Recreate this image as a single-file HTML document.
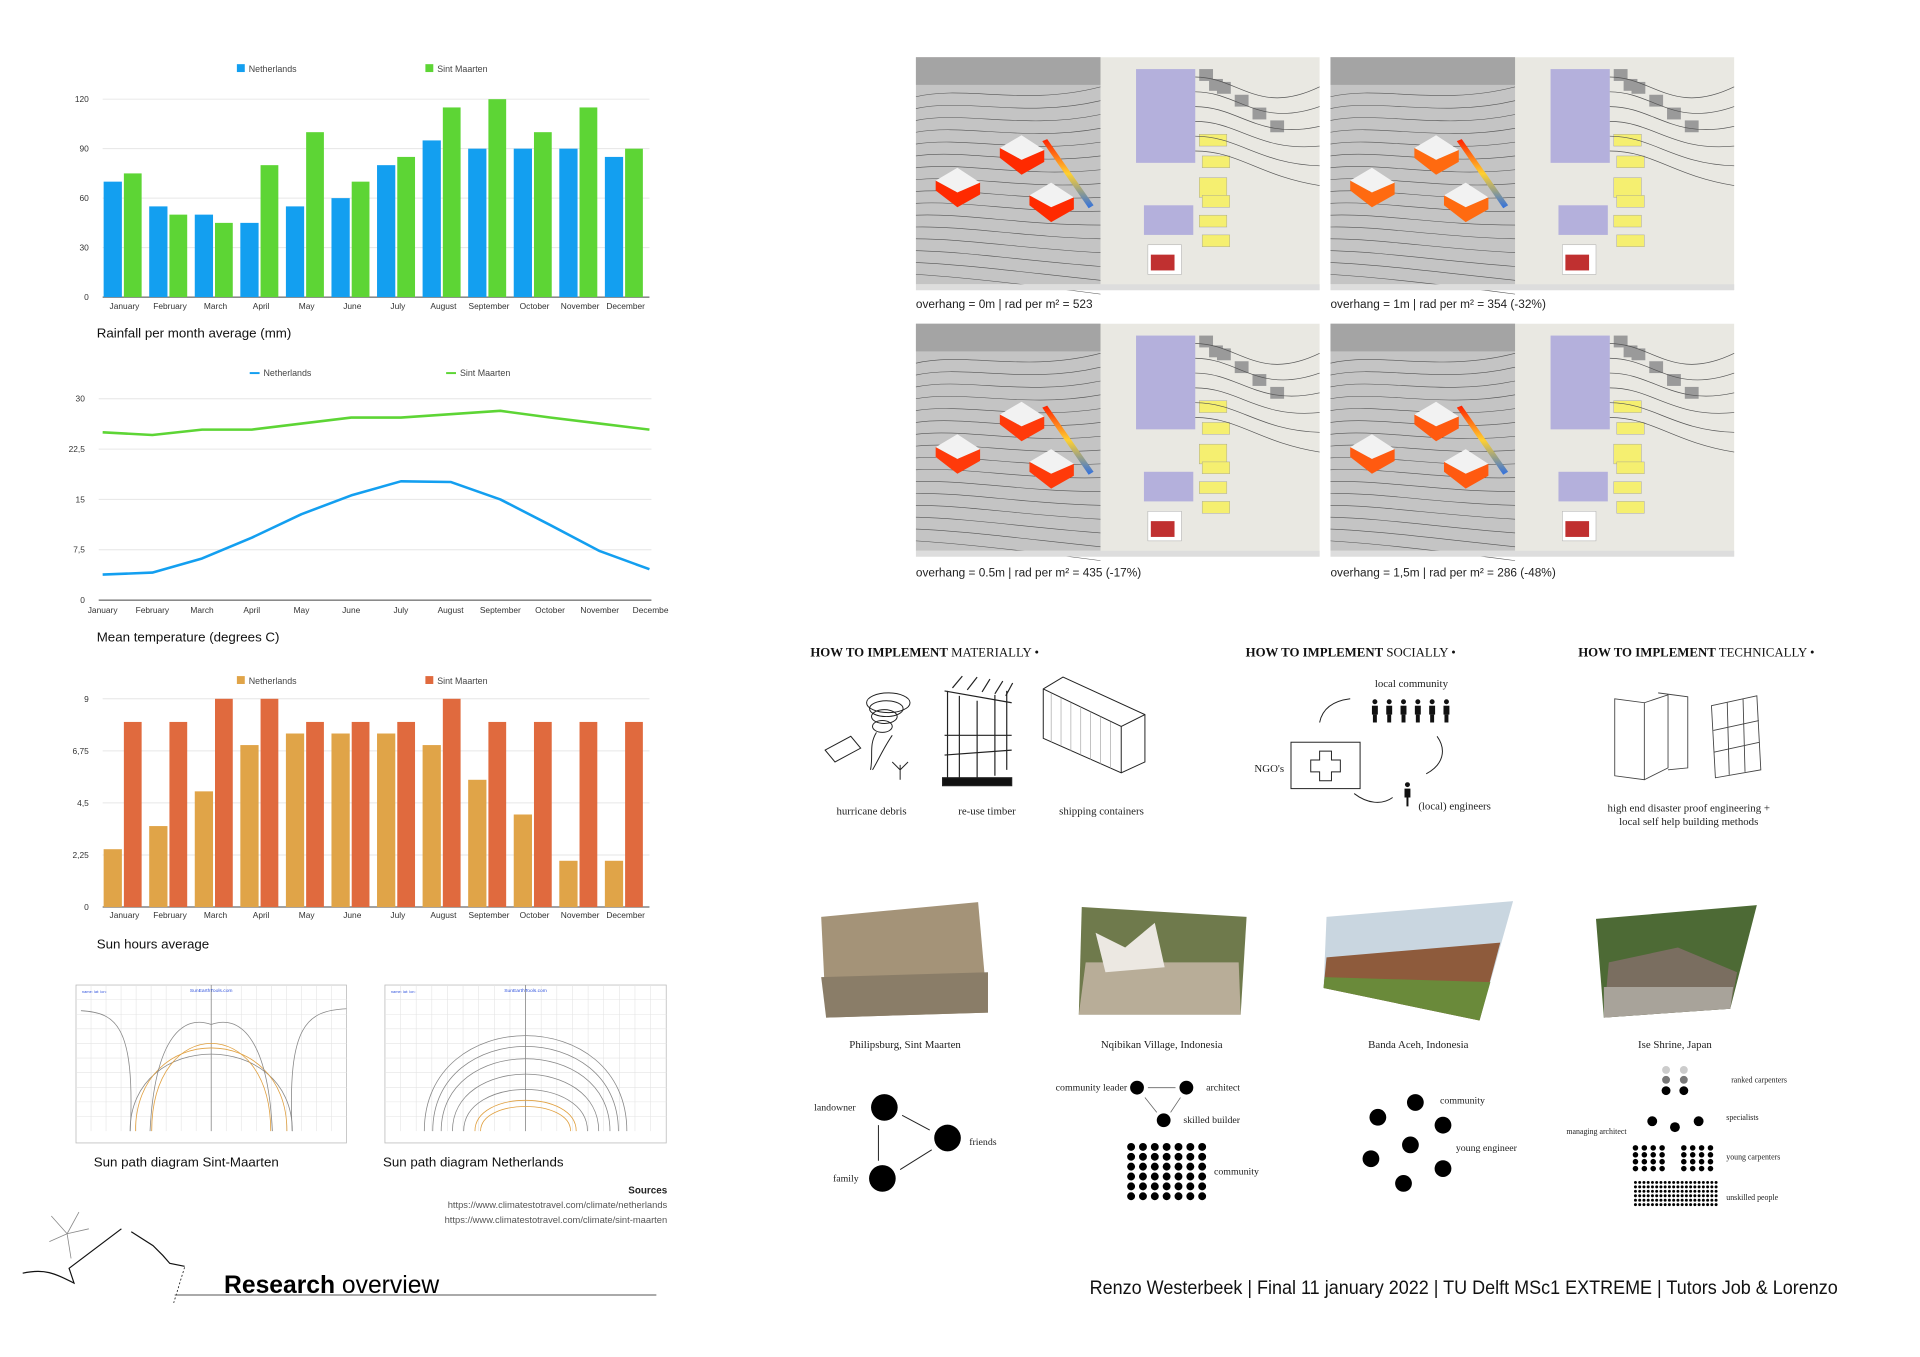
<!DOCTYPE html>
<html><head><meta charset="utf-8">
<style>
html,body{margin:0;padding:0;background:#fff;}
svg{display:block;}
.t{font-family:"Liberation Sans",sans-serif;}
.s{font-family:"Liberation Serif",serif;}
</style></head>
<body>
<svg id="root" width="1920" height="1357" viewBox="0 0 1920 1357" xmlns="http://www.w3.org/2000/svg">
<rect width="1920" height="1357" fill="#fff"/>
<g transform="scale(0.987)">

<!-- Rainfall chart -->
<g id="rain">
  <rect x="240" y="65" width="8" height="8" fill="#139ff0"/>
  <text x="252" y="73" class="t" font-size="9" fill="#444">Netherlands</text>
  <rect x="431" y="65" width="8" height="8" fill="#5dd535"/>
  <text x="443" y="73" class="t" font-size="9" fill="#444">Sint Maarten</text>
  <text x="98" y="342" class="t" font-size="13.5" fill="#111">Rainfall per month average (mm)</text>
</g>
<!-- Temperature chart -->
<g id="temp">
  <line x1="253" y1="378" x2="263" y2="378" stroke="#139ff0" stroke-width="2"/>
  <text x="267" y="381" class="t" font-size="9" fill="#444">Netherlands</text>
  <line x1="452" y1="378" x2="462" y2="378" stroke="#5dd535" stroke-width="2"/>
  <text x="466" y="381" class="t" font-size="9" fill="#444">Sint Maarten</text>
  <text x="98" y="650" class="t" font-size="13.5" fill="#111">Mean temperature (degrees C)</text>
</g>
<!-- Sun hours chart -->
<g id="sun">
  <rect x="240" y="685" width="8" height="8" fill="#e0a448"/>
  <text x="252" y="693" class="t" font-size="9" fill="#444">Netherlands</text>
  <rect x="431" y="685" width="8" height="8" fill="#e06a3e"/>
  <text x="443" y="693" class="t" font-size="9" fill="#444">Sint Maarten</text>
  <text x="98" y="961" class="t" font-size="13.5" fill="#111">Sun hours average</text>
</g>

<!-- Sun path diagrams -->
<g id="sp1"></g>
<g id="sp2"></g>
<text x="95" y="1182" class="t" font-size="13.5" fill="#111">Sun path diagram Sint-Maarten</text>
<text x="388" y="1182" class="t" font-size="13.5" fill="#111">Sun path diagram Netherlands</text>

<text x="676" y="1209" class="t" font-size="10" font-weight="bold" fill="#222" text-anchor="end">Sources</text>
<text x="676" y="1224" class="t" font-size="9.5" fill="#555" text-anchor="end">https://www.climatestotravel.com/climate/netherlands</text>
<text x="676" y="1239" class="t" font-size="9.5" fill="#555" text-anchor="end">https://www.climatestotravel.com/climate/sint-maarten</text>

<!-- hill sketch -->
<g fill="none" stroke="#111" stroke-width="1.2">
  <path d="M23 1290 C45 1285 55 1290 75 1300 L70 1285 L123 1245 M133 1248 L155 1262 L165 1272 L172 1280 L187 1283"/>
  <path d="M187 1284 L176 1320" stroke-dasharray="2 2" stroke-width="0.8"/>
  <g stroke="#888" stroke-width="0.8"><path d="M68 1250 L52 1232 M68 1250 L80 1228 M68 1250 L90 1245 M68 1250 L50 1258 M68 1250 L72 1275"/></g>
</g>
<line x1="177" y1="1312" x2="665" y2="1312" stroke="#555" stroke-width="1"/>
<text x="227" y="1310" class="t" font-size="25" fill="#000"><tspan font-weight="bold">Research</tspan> overview</text>

<!-- Screenshots -->
<g id="shots"></g>
<text x="928" y="312" class="t" font-size="12" fill="#222">overhang = 0m | rad per m² = 523</text>
<text x="1348" y="312" class="t" font-size="12" fill="#222">overhang = 1m | rad per m² = 354 (-32%)</text>
<text x="928" y="584" class="t" font-size="12" fill="#222">overhang = 0.5m | rad per m² = 435 (-17%)</text>
<text x="1348" y="584" class="t" font-size="12" fill="#222">overhang = 1,5m | rad per m² = 286 (-48%)</text>

<!-- Headings -->
<text x="821" y="665" class="s" font-size="13" fill="#111"><tspan font-weight="bold">HOW TO IMPLEMENT</tspan> MATERIALLY •</text>
<text x="1262" y="665" class="s" font-size="13" fill="#111"><tspan font-weight="bold">HOW TO IMPLEMENT</tspan> SOCIALLY •</text>
<text x="1599" y="665" class="s" font-size="13" fill="#111"><tspan font-weight="bold">HOW TO IMPLEMENT</tspan> TECHNICALLY •</text>

<!-- Material icons -->
<g fill="none" stroke="#222" stroke-width="1">
  <ellipse cx="900" cy="712" rx="22" ry="10"/><ellipse cx="898" cy="718" rx="17" ry="8"/><ellipse cx="896" cy="726" rx="13" ry="7"/><ellipse cx="894" cy="736" rx="10" ry="6"/><path d="M888 742 C880 755 885 765 882 780"/><path d="M904 745 C895 758 890 770 884 780"/>
  <path d="M836 760 L862 746 L872 758 L846 772 Z"/><path d="M912 790 L912 775 M912 780 L904 772 M912 780 L920 772"/>
</g>
<text x="883" y="825" class="s" font-size="11" fill="#222" text-anchor="middle">hurricane debris</text>
<g fill="none" stroke="#222" stroke-width="1.2">
  <path d="M960 700 L960 788 M972 705 L972 790 M990 710 L990 788 M1008 704 L1008 786 M1020 700 L1020 780"/>
  <path d="M957 700 L1025 712 M957 745 L1025 745 M957 765 L1025 760"/>
  <path d="M965 697 L975 685 M980 699 L990 686 M995 701 L1003 688 M1008 703 L1016 690 M1019 705 L1026 692"/>
  <rect x="955" y="788" width="70" height="8" fill="#111"/>
</g>
<text x="1000" y="825" class="s" font-size="11" fill="#222" text-anchor="middle">re-use timber</text>
<g fill="none" stroke="#222" stroke-width="1">
  <path d="M1057 698 L1077 686 L1160 724 L1160 772 L1136 783 L1057 748 Z"/><path d="M1057 698 L1136 736 L1160 724 M1136 736 L1136 783"/>
  <path d="M1065 702 L1065 752 M1075 707 L1075 756 M1085 712 L1085 761 M1095 716 L1095 765 M1105 721 L1105 770 M1115 726 L1115 774 M1125 731 L1125 779" stroke="#999" stroke-width="0.6"/>
</g>
<text x="1116" y="825" class="s" font-size="11" fill="#222" text-anchor="middle">shipping containers</text>

<!-- Social diagram -->
<text x="1430" y="696" class="s" font-size="11" fill="#222" text-anchor="middle">local community</text>
<g id="people" fill="#111"></g>
<text x="1301" y="782" class="s" font-size="11" fill="#222" text-anchor="end">NGO's</text>
<g fill="none" stroke="#222" stroke-width="1">
  <rect x="1308" y="752" width="70" height="47"/>
  <path d="M1337 761 h12 v9 h9 v12 h-9 v9 h-12 v-9 h-9 v-12 h9 z"/>
</g>
<g fill="#111"><circle cx="1426" cy="795" r="2.5"/><rect x="1423" y="799" width="6" height="9"/><rect x="1425" y="808" width="2" height="9"/></g>
<text x="1437" y="820" class="s" font-size="11" fill="#222">(local) engineers</text>
<g fill="none" stroke="#222" stroke-width="1">
  <path d="M1337 732 C1340 717 1352 710 1368 708"/><path d="M1456 746 C1466 760 1462 775 1445 784"/><path d="M1411 808 C1400 816 1385 814 1372 804"/>
</g>
<g fill="none" stroke="#444" stroke-width="0.9">
  <path d="M1636 708 L1666 712 L1666 790 L1636 786 Z M1666 712 L1690 704 L1690 778 L1666 790 M1680 702 L1710 706 L1710 778 L1690 780"/>
  <path d="M1734 715 L1780 705 L1784 780 L1738 788 Z M1736 740 L1782 730 M1737 762 L1783 752 M1750 712 L1752 785 M1766 708 L1768 782"/>
</g>
<text x="1711" y="822" class="s" font-size="11" fill="#222" text-anchor="middle">high end disaster proof engineering +</text>
<text x="1711" y="836" class="s" font-size="11" fill="#222" text-anchor="middle">local self help building methods</text>

<!-- Photos -->
<polygon points="832,929 991,914 1001,1026 837,1031" fill="#a49378"/>
<polygon points="832,990 1001,985 1001,1026 837,1031" fill="#8a7d68"/>
<polygon points="1096,919 1263,929 1257,1028 1093,1028" fill="#6f7a4c"/>
<polygon points="1100,975 1255,975 1257,1028 1093,1028" fill="#b8ad98"/>
<polygon points="1110,945 1140,960 1170,935 1180,980 1120,985" fill="#ece8e2"/>
<polygon points="1344,929 1533,913 1499,1034 1341,1001" fill="#c9d6e0"/>
<polygon points="1344,970 1520,955 1499,1034 1341,1001" fill="#8e5b3c"/>
<polygon points="1342,990 1510,995 1499,1034 1341,1001" fill="#6a8a3a"/>
<polygon points="1617,931 1780,917 1753,1022 1625,1031" fill="#4d6a35"/>
<polygon points="1630,975 1700,960 1760,985 1753,1022 1625,1031" fill="#7a6e60"/>
<polygon points="1625,1000 1756,1000 1753,1022 1625,1031" fill="#a8a39a"/>
<text x="917" y="1062" class="s" font-size="11" fill="#222" text-anchor="middle">Philipsburg, Sint Maarten</text>
<text x="1177" y="1062" class="s" font-size="11" fill="#222" text-anchor="middle">Nqibikan Village, Indonesia</text>
<text x="1437" y="1062" class="s" font-size="11" fill="#222" text-anchor="middle">Banda Aceh, Indonesia</text>
<text x="1697" y="1062" class="s" font-size="11" fill="#222" text-anchor="middle">Ise Shrine, Japan</text>

<!-- Network diagrams -->
<g>
  <circle cx="896" cy="1122" r="13.5" fill="#000"/><circle cx="960" cy="1153" r="13.5" fill="#000"/><circle cx="894" cy="1194" r="13.5" fill="#000"/>
  <path d="M914 1130 L942 1145 M890 1140 L890 1176 M912 1185 L944 1165" stroke="#222" stroke-width="1"/>
  <text x="867" y="1125" class="s" font-size="10" fill="#222" text-anchor="end">landowner</text>
  <text x="982" y="1160" class="s" font-size="10" fill="#222">friends</text>
  <text x="870" y="1197" class="s" font-size="10" fill="#222" text-anchor="end">family</text>
</g>
<g id="net2">
  <circle cx="1152" cy="1102" r="7" fill="#000"/><circle cx="1202" cy="1102" r="7" fill="#000"/><circle cx="1179" cy="1135" r="7" fill="#000"/>
  <path d="M1163 1102 L1191 1102 M1172 1127 L1160 1112 M1186 1127 L1196 1112" stroke="#666" stroke-width="0.8"/>
  <text x="1142" y="1105" class="s" font-size="10" fill="#222" text-anchor="end">community leader</text>
  <text x="1222" y="1105" class="s" font-size="10" fill="#222">architect</text>
  <text x="1199" y="1138" class="s" font-size="10" fill="#222">skilled builder</text>
  <text x="1230" y="1190" class="s" font-size="10" fill="#222">community</text>
</g>
<g fill="#000">
  <circle cx="1434" cy="1117" r="8.5"/><circle cx="1462" cy="1140" r="8.5"/><circle cx="1462" cy="1184" r="8.5"/><circle cx="1422" cy="1199" r="8.5"/><circle cx="1389" cy="1174" r="8.5"/><circle cx="1396" cy="1132" r="8.5"/><circle cx="1429" cy="1160" r="8.5"/>
  <text x="1459" y="1118" class="s" font-size="10" fill="#222">community</text>
  <text x="1475" y="1166" class="s" font-size="10" fill="#222">young engineer</text>
</g>
<g id="net4">
  <circle cx="1688" cy="1084" r="4" fill="#ccc"/><circle cx="1706" cy="1084" r="4" fill="#ccc"/>
  <circle cx="1688" cy="1094" r="4" fill="#777"/><circle cx="1706" cy="1094" r="4" fill="#777"/>
  <circle cx="1688" cy="1105" r="4.5" fill="#000"/><circle cx="1706" cy="1105" r="4.5" fill="#000"/>
  <circle cx="1674" cy="1136" r="5" fill="#000"/><circle cx="1697" cy="1142" r="5" fill="#000"/><circle cx="1721" cy="1136" r="5" fill="#000"/>
  <text x="1754" y="1097" class="s" font-size="8" fill="#222">ranked carpenters</text>
  <text x="1749" y="1135" class="s" font-size="8" fill="#222">specialists</text>
  <text x="1648" y="1149" class="s" font-size="8" fill="#222" text-anchor="end">managing architect</text>
  <text x="1749" y="1175" class="s" font-size="8" fill="#222">young carpenters</text>
  <text x="1749" y="1216" class="s" font-size="8" fill="#222">unskilled people</text>
</g>

<text x="1104" y="1311" class="t" font-size="20" fill="#111" textLength="758" lengthAdjust="spacingAndGlyphs">Renzo Westerbeek | Final 11 january 2022 | TU Delft MSc1 EXTREME  | Tutors Job &amp; Lorenzo</text>
</g>
</svg>

<script>
// ---- chart data ----
const months = ["January","February","March","April","May","June","July","August","September","October","November","December"];
const rainNL = [70,55,50,45,55,60,80,95,90,90,90,85];
const rainSM = [75,50,45,80,100,70,85,115,120,100,115,90];
const rainTicks = ["0","30","60","90","120"];
const rainTickVals = [0,30,60,90,120];
const tempNL = [3.8,4.1,6.2,9.3,12.8,15.6,17.7,17.6,15,11.2,7.3,4.6];
const tempSM = [25,24.6,25.4,25.4,26.3,27.2,27.2,27.7,28.2,27.2,26.3,25.4];
const tempTicks = ["0","7,5","15","22,5","30"];
const tempTickVals = [0,7.5,15,22.5,30];
const sunNL = [2.5,3.5,5,7,7.5,7.5,7.5,7,5.5,4,2,2];
const sunSM = [8,8,9,9,8,8,8,9,8,8,8,8];
const sunTicks = ["0","2,25","4,5","6,75","9"];
const sunTickVals = [0,2.25,4.5,6.75,9];

const NS = "http://www.w3.org/2000/svg";
function mk(tag, attrs, parent){ const e=document.createElementNS(NS,tag); for(const k in attrs) e.setAttribute(k,attrs[k]); parent.appendChild(e); return e; }

function yScale(v, max, y0, yTop){ return y0 - (v/max)*(y0-yTop); }

function axes(g, tickVals, tickLabels, max, y0, yTop, x0, x1){
  tickVals.forEach((v,i)=>{
    const y=yScale(v,max,y0,yTop);
    if(v>0){ const gl=mk("line",{x1:x0,x2:x1,y1:y,y2:y,stroke:"#e6e6e6","stroke-width":1},g);
      
       }
    const t=mk("text",{x:x0-14,y:y+3,"text-anchor":"end","font-size":8.5,fill:"#333",class:"t"},g);
    t.textContent=tickLabels[i];
    
    
  });
  const ax=mk("line",{x1:x0,x2:x1,y1:y0,y2:y0,stroke:"#444","stroke-width":1},g);
  
  
}

function barChart(gid, a, b, ca, cb, tickVals, tickLabels, max, y0, yTop, labelY){
  const g=document.getElementById(gid);
  const x0=104, x1=658, band=(x1-x0)/12;
  axes(g,tickVals,tickLabels,max,y0,yTop,x0,x1);
  months.forEach((m,i)=>{
    const bx=x0+i*band;
    const ya=yScale(a[i],max,y0,yTop), yb=yScale(b[i],max,y0,yTop);
    const r1=mk("rect",{x:bx+1,y:ya,width:18.5,height:y0-ya,fill:ca},g);
    
    
    const r2=mk("rect",{x:bx+21.5,y:yb,width:18,height:y0-yb,fill:cb},g);
    
    
    const t=mk("text",{x:bx+band/2-1,y:labelY,"text-anchor":"middle","font-size":8.5,fill:"#333",class:"t"},g);
    t.textContent=m;
    
    
  });
}
barChart("rain",rainNL,rainSM,"#139ff0","#5dd535",rainTickVals,rainTicks,120,301,100.5,313);
barChart("sun",sunNL,sunSM,"#e0a448","#e06a3e",sunTickVals,sunTicks,9,919,708,930);

// line chart
(function(){
  const g=document.getElementById("temp");
  const x0=104,x1=658,y0=608,yTop=404,max=30,step=(x1-x0)/11;
  axes(g,tempTickVals,tempTicks,max,y0,yTop,x0-4,x1+2);
  months.forEach((m,i)=>{
    const t=mk("text",{x:x0+i*step,y:621,"text-anchor":i==11?"start":"middle","font-size":8.5,fill:"#333",class:"t"},g);
    t.textContent = i==11 ? "Decembe" : m;
    if(i==11) t.setAttribute("x", x0+i*step-17);
    
    
  });
  [[tempSM,"#5dd535","line-sint-maarten"],[tempNL,"#139ff0","line-netherlands"]].forEach(([d,c,n])=>{
    const pts=d.map((v,i)=>(x0+i*step)+","+yScale(v,max,y0,yTop)).join(" ");
    const p=mk("polyline",{points:pts,fill:"none",stroke:c,"stroke-width":2.6,"stroke-linejoin":"round"},g);
    
    
  });
})();

// sun path diagrams (decorative)
function sunPath(gid, x, y, w, h, nl){
  const g=document.getElementById(gid);
  mk("rect",{x:x,y:y,width:w,height:h,fill:"#fff",stroke:"#bbb","stroke-width":0.8},g);
  for(let i=1;i<18;i++) mk("line",{x1:x+i*w/18,x2:x+i*w/18,y1:y,y2:y+h-12,stroke:"#e4e4e4","stroke-width":0.6},g);
  for(let i=1;i<10;i++) mk("line",{x1:x,x2:x+w,y1:y+i*(h-12)/10,y2:y+i*(h-12)/10,stroke:"#e4e4e4","stroke-width":0.6},g);
  mk("line",{x1:x+w/2,x2:x+w/2,y1:y,y2:y+h-12,stroke:"#888","stroke-width":0.8},g);
  const tt=mk("text",{x:x+w/2,y:y+7,"text-anchor":"middle","font-size":5,fill:"#3355dd",class:"t"},g); tt.textContent="SunEarthTools.com";
  const cx=x+w/2, base=y+h-12;
  const arcs = nl ? [[0.36,0.62],[0.33,0.55],[0.3,0.47],[0.26,0.37],[0.22,0.27],[0.18,0.2],[0.16,0.16]] : [[0.3,0.5],[0.28,0.54],[0.22,0.57]];
  arcs.forEach(([rw,rh],i)=>{
    const c = (i>=arcs.length-2)?"#e0a040":"#888";
    mk("path",{d:`M${cx-rw*w} ${base} C${cx-rw*w} ${base-rh*h*1.3} ${cx+rw*w} ${base-rh*h*1.3} ${cx+rw*w} ${base}`,fill:"none",stroke:c,"stroke-width":0.8},g);
  });
  if(!nl){
    mk("path",{d:`M${x+55} ${base} C${x+60} ${y+40} ${x+40} ${y+28} ${x+5} ${y+26} M${x+w-55} ${base} C${x+w-60} ${y+40} ${x+w-40} ${y+26} ${x+w} ${y+24} M${x+75} ${base} C${x+80} ${y+50} ${x+110} ${y+30} ${cx} ${y+40} C${x+w-110} ${y+30} ${x+w-80} ${y+50} ${x+w-75} ${base}`,fill:"none",stroke:"#888","stroke-width":0.8},g);
  }
  const nt=mk("text",{x:x+6,y:y+8,"font-size":4,fill:"#3355dd",class:"t"},g); nt.textContent="name: lat: lon:";
}
sunPath("sp1",77,998,274,160,false);
sunPath("sp2",390,998,285,160,true);

// screenshots (decorative)
function shot(x,y,variant){
  const g=document.getElementById("shots");
  const w=409,h=236,vw=187;
  mk("rect",{x:x,y:y,width:w,height:h,fill:"#e9e8e2"},g);
  mk("rect",{x:x,y:y,width:vw,height:h-6,fill:"#c4c4c4"},g);
  mk("rect",{x:x,y:y,width:vw,height:28,fill:"#a4a4a4"},g);
  for(let i=0;i<16;i++){
    mk("path",{d:`M${x} ${y+40+i*12} C${x+50} ${y+28+i*13} ${x+110} ${y+50+i*12} ${x+vw} ${y+30+i*14}`,fill:"none",stroke:"#555","stroke-width":0.6},g);
  }
  const houses=[[x+20,y+125],[x+85,y+92],[x+115,y+140]];
  const col = ["#ff2a00","#ff6a10","#ff3a0a","#ff5a10"][variant];
  houses.forEach(([hx,hy])=>{
    mk("polygon",{points:`${hx},${hy} ${hx+22},${hy-13} ${hx+45},${hy+2} ${hx+22},${hy+12}`,fill:"#f2f2f2"},g);
    mk("polygon",{points:`${hx},${hy} ${hx+22},${hy+12} ${hx+45},${hy+2} ${hx+45},${hy+14} ${hx+22},${hy+27} ${hx},${hy+10}`,fill:col},g);
  });
  const lg=mk("linearGradient",{id:"lg"+variant,x1:0,y1:0,x2:0,y2:1},g);
  mk("stop",{offset:"0","stop-color":"#ff2000"},lg); mk("stop",{offset:"0.5","stop-color":"#ffd030"},lg); mk("stop",{offset:"1","stop-color":"#3070e0"},lg);
  mk("polygon",{points:`${x+128},${y+85} ${x+133},${y+83} ${x+180},${y+150} ${x+175},${y+153}`,fill:`url(#lg${variant})`},g);
  mk("rect",{x:x+vw+36,y:y+12,width:60,height:95,fill:"#b4b0dc"},g);
  mk("rect",{x:x+vw+44,y:y+150,width:50,height:30,fill:"#b4b0dc"},g);
  [[112,88],[130,110],[140,132],[156,150],[175,170],[200,190]].forEach(([dx,dy],i)=>{
    mk("rect",{x:x+vw+100+(i%2)*3,y:y+dy-10,width:28,height:i==2?20:12,fill:"#f5ef70",stroke:"#999","stroke-width":0.4},g);
  });
  for(let i=0;i<6;i++) mk("rect",{x:x+vw+100+i*18%80,y:y+12+(i*13)%55,width:14,height:12,fill:"#9a9a9a"},g);
  for(let i=0;i<6;i++) mk("path",{d:`M${x+vw+96} ${y+20+i*15} C${x+vw+140} ${y+20+i*15} ${x+vw+160} ${y+60+i*12} ${x+w} ${y+30+i*20}`,fill:"none",stroke:"#555","stroke-width":0.7},g);
  mk("rect",{x:x+vw+48,y:y+190,width:34,height:30,fill:"#fff",stroke:"#aaa","stroke-width":0.5},g);
  mk("rect",{x:x+vw+51,y:y+200,width:24,height:16,fill:"#c03030"},g);
  mk("rect",{x:x,y:y+h-6,width:w,height:6,fill:"#ddd"},g);
}
shot(928,58,0); shot(1348,58,1); shot(928,328,2); shot(1348,328,3);

// people
(function(){
  const g=document.getElementById("people");
  for(let i=0;i<6;i++){
    const px=1390+i*14.5;
    mk("circle",{cx:px+3,cy:711,r:2.5},g);
    mk("rect",{x:px,y:715,width:6,height:9},g);
    mk("rect",{x:px+1,y:724,width:4,height:8},g);
  }
})();
// dot grids
(function(){
  const g2=document.getElementById("net2");
  for(let r=0;r<6;r++)for(let c=0;c<7;c++) mk("circle",{cx:1146+c*12,cy:1162+r*10,r:4,fill:"#000"},g2);
  const g4=document.getElementById("net4");
  for(let r=0;r<4;r++)for(let c=0;c<4;c++){ mk("circle",{cx:1657+c*9,cy:1163+r*7,r:2.8,fill:"#000"},g4); mk("circle",{cx:1706+c*9,cy:1163+r*7,r:2.8,fill:"#000"},g4); }
  for(let r=0;r<6;r++)for(let c=0;c<20;c++) mk("circle",{cx:1657+c*4.3,cy:1198+r*4.5,r:1.5,fill:"#000"},g4);
})();
</script>
</body></html>
